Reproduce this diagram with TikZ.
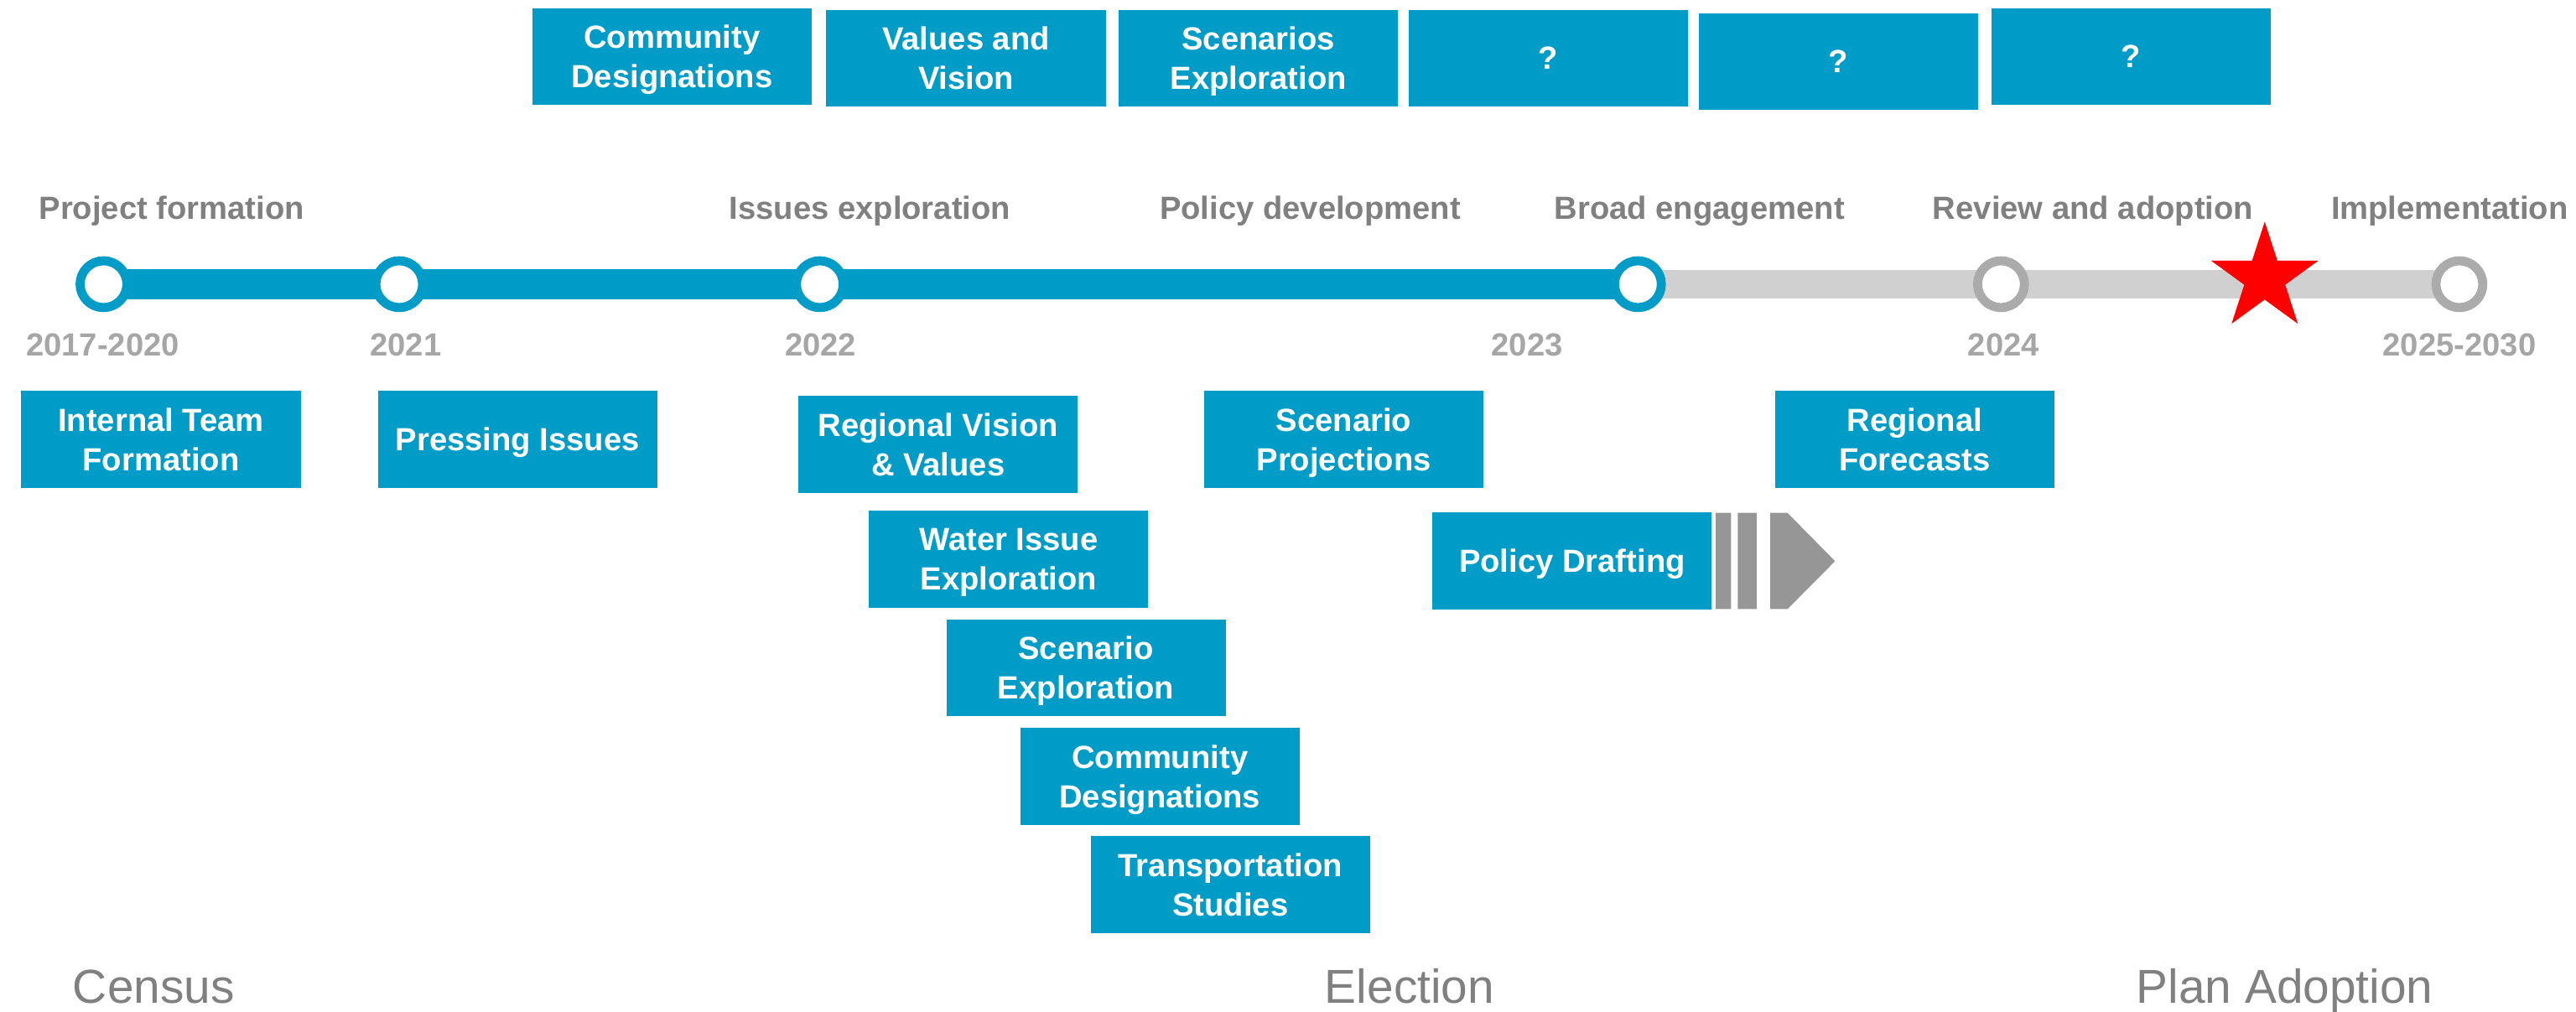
\documentclass[tikz,border=0pt]{standalone}
\usepackage{fontspec}
\setmainfont{Liberation Sans}
\usetikzlibrary{shapes.geometric,backgrounds}
\definecolor{tblue}{HTML}{009CC8}
\definecolor{barGray}{HTML}{D0D0D0}
\definecolor{ringGray}{HTML}{ABABAB}
\definecolor{labGray}{HTML}{808080}
\definecolor{yearGray}{HTML}{A6A6A6}
\definecolor{arrGray}{HTML}{969696}

\begin{document}
\begin{tikzpicture}[x=0.5pt,y=-0.5pt,
    box/.style={fill=tblue,text=white,font=\bfseries\fontsize{9.75}{12}\selectfont,align=center,
      minimum width=85pt,minimum height=29.5pt,inner sep=0pt,text depth=0pt},
    ring/.style={circle,draw=tblue,fill=white,line width=2.75pt,minimum size=14.25pt,inner sep=0pt},
    phase/.style={text=labGray,font=\bfseries\fontsize{9.75}{12}\selectfont,anchor=base},
    year/.style={text=yearGray,font=\bfseries\fontsize{9.75}{12}\selectfont,anchor=base},
    event/.style={text=labGray,font=\fontsize{14.5}{17}\selectfont,anchor=base west,inner sep=0pt}]
    \useasboundingbox (0,0) rectangle (1568,615.6);

    \node[box] (t1) at (409,34.5) {Community\\Designations};
    \node[box] (t2) at (588,35.5) {Values and\\Vision};
    \node[box] (t3) at (766,35.5) {Scenarios\\Exploration};
    \node[box] (t4) at (942.5,35.5) {?};
    \node[box] (t5) at (1119,37.5) {?};
    \node[box] (t6) at (1297,34.5) {?};

    \node[phase] (p1) at (104.5,133.3) {Project formation};
    \node[phase] (p2) at (529.5,133.3) {Issues exploration};
    \node[phase] (p3) at (797.5,133.3) {Policy development};
    \node[phase] (p4) at (1034.5,133.3) {Broad engagement};
    \node[phase] (p5) at (1274,133.3) {Review and adoption};
    \node[phase] (p6) at (1491,133.3) {Implementation};

    \node[ring] (c1) at (63,173) {};
    \node[ring] (c2) at (243,173) {};
    \node[ring] (c3) at (499,173) {};
    \node[ring] (c4) at (997,173) {};
    \node[ring,draw=ringGray] (c5) at (1218,173) {};
    \node[ring,draw=ringGray] (c6) at (1497,173) {};

    \begin{scope}[on background layer]
    \draw[barGray,line width=8.5pt] (c4.center) -- (c6.center);
    \draw[tblue,line width=9pt] (c1.center) -- (c4.center);
    \end{scope}

    \node[star,star points=5,star point ratio=2.618,fill=red,minimum size=34.3pt,inner sep=0pt]
      (now) at (1378.5,169.3) {};

    \node[year] (y1) at (62.5,216.6) {2017-2020};
    \node[year] (y2) at (247,216.6) {2021};
    \node[year] (y3) at (499.5,216.6) {2022};
    \node[year] (y4) at (929.5,216.6) {2023};
    \node[year] (y5) at (1219.5,216.6) {2024};
    \node[year] (y6) at (1497,216.6) {2025-2030};

    \node[box] (b1) at (98,267.5) {Internal Team\\Formation};
    \node[box] (b2) at (315,267.5) {Pressing Issues};
    \node[box] (b3) at (571,270.5) {Regional Vision\\\& Values};
    \node[box] (b4) at (614,340.5) {Water Issue\\Exploration};
    \node[box] (b5) at (661,406.5) {Scenario\\Exploration};
    \node[box] (b6) at (706,472.5) {Community\\Designations};
    \node[box] (b7) at (749,538.5) {Transportation\\Studies};
    \node[box] (b8) at (818,267.5) {Scenario\\Projections};
    \node[box] (b9) at (957,341.5) {Policy Drafting};
    \node[box] (b10) at (1165.5,267.5) {Regional\\Forecasts};

    \fill[arrGray]
      (1044.3,312.2) rectangle (1053.7,370.8)
      (1057.8,312.2) rectangle (1069.3,370.8)
      (1077.5,312.2) -- (1088,312.2) -- (1117,341.6) -- (1088,370.8) -- (1077.5,370.8) -- cycle
      ;

    \node[event] (e1) at (44,610.7) {Census};
    \node[event] (e2) at (806,610.7) {Election};
    \node[event] (e3) at (1300,610.7) {Plan Adoption};
  \end{tikzpicture}
\end{document}
